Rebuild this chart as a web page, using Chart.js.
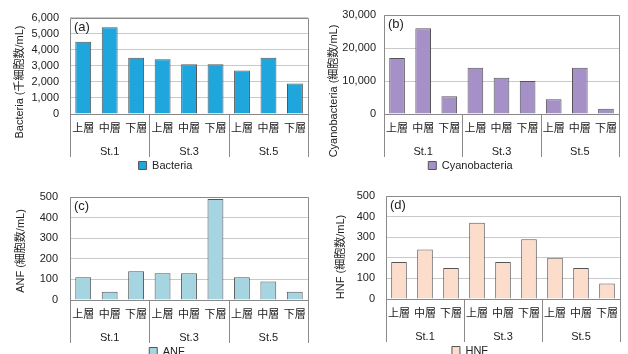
<!DOCTYPE html>
<html>
<head>
<meta charset="utf-8">
<script src="https://cdn.jsdelivr.net/npm/chart.js@4.4.0/dist/chart.umd.min.js"></script>
<style>
  html, body { margin: 0; padding: 0; background: #fff; overflow: hidden; width: 628px; height: 354px; }
  .panel { position: absolute; }
</style>
</head>
<body>
<div class="panel" style="left:0;top:0"><canvas id="chartA" width="314" height="181"></canvas></div>
<div class="panel" style="left:314px;top:0"><canvas id="chartB" width="314" height="181"></canvas></div>
<div class="panel" style="left:0;top:177px"><canvas id="chartC" width="314" height="190"></canvas></div>
<div class="panel" style="left:314px;top:177px"><canvas id="chartD" width="314" height="189"></canvas></div>
<script>
// Sampling depths within each station, and the stations
const layers = ['上層', '中層', '下層', '上層', '中層', '下層', '上層', '中層', '下層'];
const stations = ['St.1', 'St.3', 'St.5'];

// Cell counts per sample (St.1, St.3, St.5 × 上層/中層/下層)
const bacteria = [4500, 5400, 3500, 3400, 3100, 3100, 2700, 3500, 1900];          // 千細胞数/mL
const cyanobacteria = [17000, 26000, 5400, 14000, 11000, 10000, 4500, 14000, 1600]; // 細胞数/mL
const anf = [110, 40, 140, 130, 130, 490, 110, 90, 40];                              // 細胞数/mL
const hnf = [180, 240, 150, 370, 180, 290, 200, 150, 75];                            // 細胞数/mL

// Y-axis tick values
const bacteriaTicks = [0, 1000, 2000, 3000, 4000, 5000, 6000];
const cyanoTicks = [0, 10000, 20000, 30000];
const anfTicks = [0, 100, 200, 300, 400, 500];
const hnfTicks = [0, 100, 200, 300, 400, 500];

const FONT = "'Liberation Sans', 'Noto Sans CJK JP', Arial, sans-serif";
const TEXT = '#222';
const FRAME = '#8a8a8a';
const GRID = '#c9c9c9';

// Plot frame, group separators below the axis, panel letter and y-axis title
const framePlugin = {
  id: 'frame',
  afterDraw(chart, args, opts) {
    const { ctx, chartArea: a, scales } = chart;
    const x = scales.x, x2 = scales.x2;
    const bottom = x2.top + opts.depth;
    const px = v => Math.round(v) + 0.5;
    ctx.save();
    ctx.strokeStyle = FRAME;
    ctx.lineWidth = 1;
    ctx.beginPath();
    ctx.moveTo(px(a.left), bottom);
    ctx.lineTo(px(a.left), px(a.top));
    ctx.lineTo(px(a.right), px(a.top));
    ctx.lineTo(px(a.right), bottom);
    const per = x.ticks.length / x2.ticks.length;
    for (let g = 1; g < x2.ticks.length; g++) {
      const sx = (x.getPixelForTick(g * per - 1) + x.getPixelForTick(g * per)) / 2;
      ctx.moveTo(px(sx), px(a.bottom));
      ctx.lineTo(px(sx), bottom);
    }
    ctx.stroke();

    ctx.fillStyle = TEXT;
    ctx.font = '13px ' + FONT;
    ctx.textBaseline = 'top';
    ctx.textAlign = 'left';
    ctx.fillText(opts.tag, a.left + 4, a.top + 3);

    ctx.font = '11px ' + FONT;
    ctx.textAlign = 'center';
    ctx.textBaseline = 'middle';
    ctx.translate(opts.titleX, opts.titleY);
    ctx.rotate(-Math.PI / 2);
    ctx.fillText(opts.title, 0, 0);
    ctx.restore();
  }
};

function makePanel(id, cfg) {
  const t = cfg.ticks;
  return new Chart(document.getElementById(id), {
    type: 'bar',
    data: {
      labels: layers,
      datasets: [{
        label: cfg.label,
        data: cfg.values,
        backgroundColor: cfg.color,
        borderColor: '#555',
        borderWidth: 1,
        barPercentage: 0.6,
        categoryPercentage: 1.0,
        xAxisID: 'x',
        yAxisID: 'y'
      }]
    },
    options: {
      responsive: false,
      animation: false,
      devicePixelRatio: 1,
      layout: { padding: cfg.padding },
      scales: {
        x: {
          type: 'category',
          weight: 0,
          grid: { display: false, drawTicks: false },
          border: { display: false },
          ticks: { autoSkip: false, maxRotation: 0, minRotation: 0, padding: 8, color: TEXT, font: { family: FONT, size: 11 } },
          afterFit: s => { s.height = 28; }
        },
        x2: {
          type: 'category',
          labels: stations,
          offset: true,
          weight: 1,
          position: 'bottom',
          grid: { display: false, drawTicks: false },
          border: { display: false },
          ticks: { autoSkip: false, maxRotation: 0, minRotation: 0, padding: 3, color: TEXT, font: { family: FONT, size: 11 } },
          afterFit: s => { s.height = 18; }
        },
        y: {
          min: t[0],
          max: t[t.length - 1],
          afterBuildTicks: s => { s.ticks = t.map(v => ({ value: v })); },
          grid: {
            drawTicks: false,
            color: c => (c.tick && c.tick.value === 0) ? FRAME : GRID,
            lineWidth: 1
          },
          border: { display: false },
          ticks: {
            autoSkip: false,
            padding: cfg.tickPad,
            color: TEXT,
            font: { family: FONT, size: 11 },
            callback: v => Number(v).toLocaleString('en-US')
          },
          afterFit: s => { s.width = cfg.yWidth; }
        }
      },
      plugins: {
        legend: {
          display: true,
          position: 'bottom',
          labels: { boxWidth: 8, boxHeight: 8, padding: 0, color: TEXT, font: { family: FONT, size: 11 } }
        },
        tooltip: { enabled: false },
        frame: { tag: cfg.tag, depth: 15, title: cfg.title, titleX: cfg.titleX, titleY: cfg.titleY }
      }
    },
    plugins: [framePlugin]
  });
}

makePanel('chartA', {
  label: 'Bacteria', values: bacteria, color: '#1fa6dd', ticks: bacteriaTicks,
  title: 'Bacteria (千細胞数/mL)', tag: '(a)', titleX: 20, titleY: 82,
  padding: { top: 15, left: 18, right: 1, bottom: 0 }, yWidth: 52, tickPad: 11
});
makePanel('chartB', {
  label: 'Cyanobacteria', values: cyanobacteria, color: '#a690c8', ticks: cyanoTicks,
  title: 'Cyanobacteria (細胞数/mL)', tag: '(b)', titleX: 20, titleY: 91,
  padding: { top: 15, left: 8, right: 9, bottom: 0 }, yWidth: 62, tickPad: 8
});
makePanel('chartC', {
  label: 'ANF', values: anf, color: '#a5d5e1', ticks: anfTicks,
  title: 'ANF (細胞数/mL)', tag: '(c)', titleX: 21, titleY: 74,
  padding: { top: 20, left: 24, right: 4, bottom: 0 }, yWidth: 46, tickPad: 12
});
makePanel('chartD', {
  label: 'HNF', values: hnf, color: '#fcdccb', ticks: hnfTicks,
  title: 'HNF (細胞数/mL)', tag: '(d)', titleX: 27, titleY: 80,
  padding: { top: 19, left: 6, right: 8, bottom: 0 }, yWidth: 66, tickPad: 11
});
</script>
</body>
</html>
